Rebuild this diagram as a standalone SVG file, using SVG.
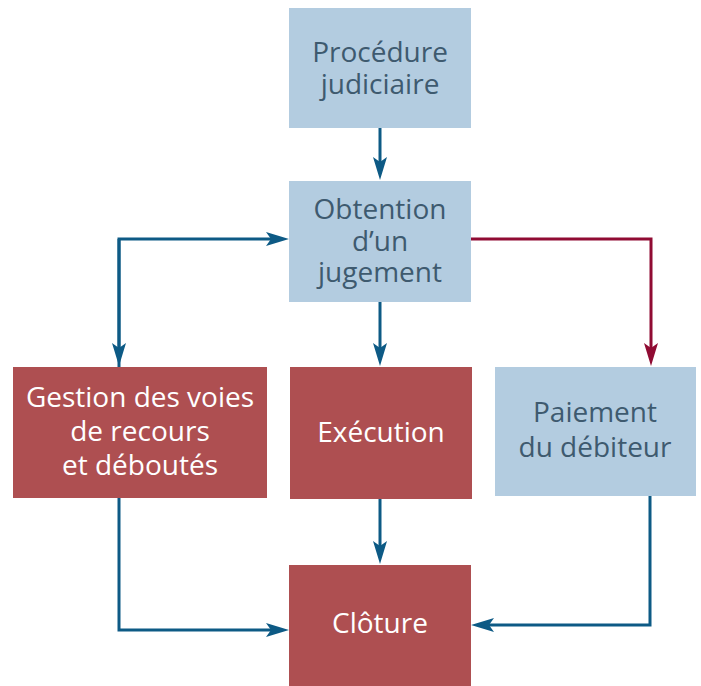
<svg xmlns="http://www.w3.org/2000/svg" width="701" height="686" viewBox="0 0 701 686">
<style>
.blue{fill:#b3cce0}
.red{fill:#ae4f51}
.tb{fill:#3e5a6f;font-family:"Open Sans","Noto Sans",sans-serif;font-size:28px;text-anchor:middle}
.tw{fill:#ffffff;font-family:"Open Sans","Noto Sans",sans-serif;font-size:28px;text-anchor:middle}
.c{fill:none;stroke-width:3}
.cb{stroke:#0d5a85}
.cr{stroke:#900b33}
</style>
<defs>
<marker id="ab" markerUnits="userSpaceOnUse" markerWidth="24" markerHeight="16" viewBox="0 0 24 16" refX="16" refY="8" orient="auto">
<path d="M0,1 L23,8 L0,15 L5,8 z" fill="#0d5a85"/>
</marker>
<marker id="ar" markerUnits="userSpaceOnUse" markerWidth="24" markerHeight="16" viewBox="0 0 24 16" refX="16" refY="8" orient="auto">
<path d="M0,1 L23,8 L0,15 L5,8 z" fill="#900b33"/>
</marker>
</defs>
<g id="connectors">
<path class="c cb" d="M380,128 V173" marker-end="url(#ab)"/>
<path class="c cb" d="M119,367 V239 H282" marker-end="url(#ab)"/>
<path class="c cb" d="M119,239 V359" marker-end="url(#ab)"/>
<path class="c cr" d="M470,239 H651 V359" marker-end="url(#ar)"/>
<path class="c cb" d="M380,301 V359" marker-end="url(#ab)"/>
<path class="c cb" d="M119,498 V630 H282" marker-end="url(#ab)"/>
<path class="c cb" d="M380,499 V557" marker-end="url(#ab)"/>
<path class="c cb" d="M650,496 V625 H478" marker-end="url(#ab)"/>
</g>
<g id="procedure">
<rect class="blue" x="289" y="8" width="182" height="120"/>
<text class="tb" x="380" y="62">Procédure</text>
<text class="tb" x="380" y="94">judiciaire</text>
</g>
<g id="obtention">
<rect class="blue" x="289" y="181" width="182" height="121"/>
<text class="tb" x="380" y="219">Obtention</text>
<text class="tb" x="380" y="251">d’un</text>
<text class="tb" x="380" y="282">jugement</text>
</g>
<g id="gestion">
<rect class="red" x="13" y="367" width="254" height="131"/>
<text class="tw" x="140" y="407">Gestion des voies</text>
<text class="tw" x="140" y="441">de recours</text>
<text class="tw" x="140" y="475">et déboutés</text>
</g>
<g id="execution">
<rect class="red" x="290" y="367" width="182" height="132"/>
<text class="tw" x="381" y="442">Exécution</text>
</g>
<g id="paiement">
<rect class="blue" x="495" y="367" width="201" height="129"/>
<text class="tb" x="595" y="422">Paiement</text>
<text class="tb" x="595" y="457">du débiteur</text>
</g>
<g id="cloture">
<rect class="red" x="289" y="565" width="182" height="121"/>
<text class="tw" x="380" y="633">Clôture</text>
</g>
</svg>
